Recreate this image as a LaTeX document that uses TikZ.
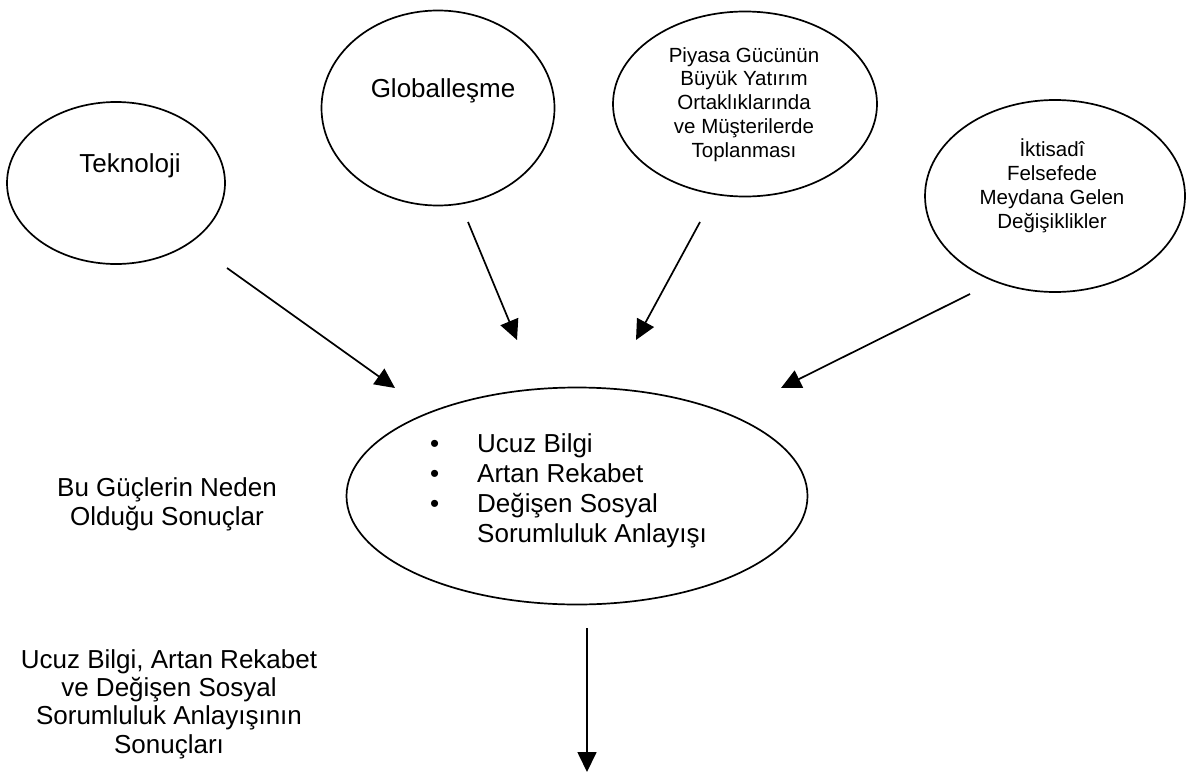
\documentclass[tikz,border=0pt]{standalone}
\usepackage{fontspec}
\setmainfont{Liberation Sans}
\usetikzlibrary{shapes.geometric,arrows.meta}
\begin{document}
\begin{tikzpicture}[x=1pt,y=-1pt,
  ell/.style={draw, ellipse, line width=1.7pt, inner sep=0pt},
  big/.style={font=\fontsize{26}{28.3}\selectfont, align=center, inner sep=0pt, anchor=base},
  small/.style={font=\fontsize{20.5}{23.7}\selectfont, align=center, inner sep=0pt, anchor=base},
  arr/.style={line width=1.7pt, -{Triangle[length=20pt,width=19pt]}}]
\useasboundingbox (0,0) rectangle (1190,776);
% ellipses
\node[ell, minimum width=218pt, minimum height=162pt] (tek) at (116,183) {};
\node[ell, minimum width=233pt, minimum height=195pt] (glob) at (438,108) {};
\node[ell, minimum width=264pt, minimum height=185pt] (piy) at (745,104) {};
\node[ell, minimum width=260pt, minimum height=192pt] (ikt) at (1055,196) {};
\node[ell, minimum width=461pt, minimum height=217pt] (mid) at (577,496) {};
% texts (base anchor = baseline of last line)
\node[big] (tekt) at (130,172) {Teknoloji};
\node[big] (globt) at (443,97) {Globalleşme};
\node[small] (piyt) at (744,157) {Piyasa Gücünün\\Büyük Yatırım\\Ortaklıklarında\\ve Müşterilerde\\Toplanması};
\node[small] (iktt) at (1052,228) {İktisadî\\Felsefede\\Meydana Gelen\\Değişiklikler};
\node[font=\fontsize{26}{30}\selectfont, align=left, inner sep=0pt, anchor=base west] (midt) at (430,542)
  {\makebox[47pt][l]{•}Ucuz Bilgi\\\makebox[47pt][l]{•}Artan Rekabet\\\makebox[47pt][l]{•}Değişen Sosyal\\\hspace*{47pt}Sorumluluk Anlayışı};
\node[big] (bu) at (167,525) {Bu Güçlerin Neden\\Olduğu Sonuçlar};
\node[big] (ucuz) at (169,753) {Ucuz Bilgi, Artan Rekabet\\ve Değişen Sosyal\\Sorumluluk Anlayışının\\Sonuçları};
% arrow ends
\coordinate (a1s) at (227,268); \coordinate (a1e) at (395,388);
\coordinate (a2s) at (468,222); \coordinate (a2e) at (517,340);
\coordinate (a3s) at (700,222); \coordinate (a3e) at (636,340);
\coordinate (a4s) at (970,294); \coordinate (a4e) at (781,388);
\coordinate (a5s) at (587,628); \coordinate (a5e) at (587,772);
\draw[arr] (a1s) -- (a1e);
\draw[arr] (a2s) -- (a2e);
\draw[arr] (a3s) -- (a3e);
\draw[arr] (a4s) -- (a4e);
\draw[arr] (a5s) -- (a5e);
\end{tikzpicture}
\end{document}
